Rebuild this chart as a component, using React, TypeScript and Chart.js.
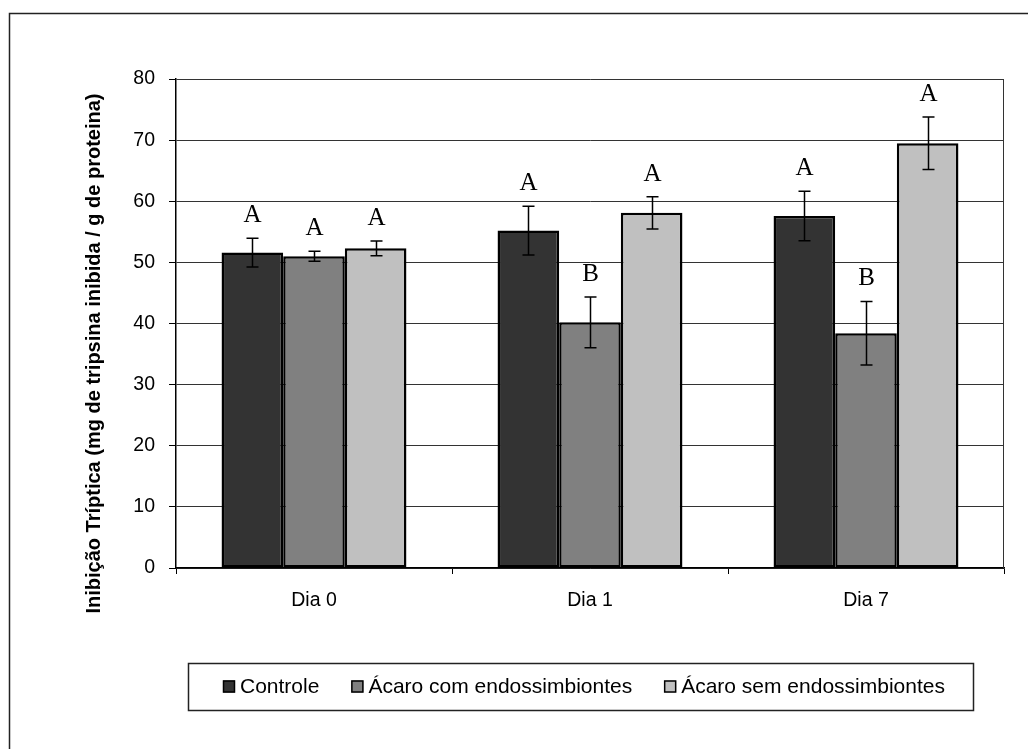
import { useEffect, useRef } from 'react';
import { Chart, registerables } from 'chart.js';

Chart.register(...registerables);

// Sampling days
const categories = ['Dia 0', 'Dia 1', 'Dia 7'];

// Treatment groups
const seriesNames = ['Controle', 'Ácaro com endossimbiontes', 'Ácaro sem endossimbiontes'];
const seriesColors = ['#333333', '#808080', '#c0c0c0'];

// Mean tryptic inhibition (mg trypsin inhibited / g protein)
const controleValues = [51.6, 55.2, 57.6];
const comEndoValues = [51.0, 40.2, 38.4];
const semEndoValues = [52.3, 58.1, 69.5];

// Standard errors
const controleErrors = [2.35, 4.0, 4.05];
const comEndoErrors = [0.8, 4.15, 5.2];
const semEndoErrors = [1.2, 2.65, 4.3];

// Significance letters
const controleLetters = ['A', 'A', 'A'];
const comEndoLetters = ['A', 'B', 'B'];
const semEndoLetters = ['A', 'A', 'A'];

const yTicks = { min: 0, max: 80, step: 10 };

const yTitle = 'Inibição Tríptica (mg de tripsina inibida / g de proteina)';

const seriesValues = [controleValues, comEndoValues, semEndoValues];
const seriesErrors = [controleErrors, comEndoErrors, semEndoErrors];
const seriesLetters = [controleLetters, comEndoLetters, semEndoLetters];

const SANS = '"Liberation Sans", Arial, sans-serif';
const SERIF = '"Liberation Serif", "Times New Roman", serif';

const decorations = {
  id: 'decorations',
  afterDatasetsDraw(chart: any) {
    const ctx = chart.ctx;
    const yScale = chart.scales.y;
    ctx.save();
    ctx.strokeStyle = '#000';
    ctx.fillStyle = '#000';
    ctx.lineWidth = 1.5;
    ctx.font = `25px ${SERIF}`;
    ctx.textAlign = 'center';
    ctx.textBaseline = 'alphabetic';
    chart.data.datasets.forEach((ds: any, i: number) => {
      const meta = chart.getDatasetMeta(i);
      meta.data.forEach((bar: any, j: number) => {
        const v = seriesValues[i][j];
        const e = seriesErrors[i][j];
        const x = Math.round(bar.x) + 0.5;
        const yTop = yScale.getPixelForValue(v + e);
        const yBot = yScale.getPixelForValue(v - e);
        ctx.beginPath();
        ctx.moveTo(x, yTop);
        ctx.lineTo(x, yBot);
        ctx.moveTo(x - 6, yTop);
        ctx.lineTo(x + 6, yTop);
        ctx.moveTo(x - 6, yBot);
        ctx.lineTo(x + 6, yBot);
        ctx.stroke();
        ctx.fillText(seriesLetters[i][j], x, yTop - 16);
      });
    });
    ctx.restore();
  },
  afterDraw(chart: any) {
    const ctx = chart.ctx;
    const area = chart.chartArea;
    ctx.save();

    // outer frame (top and left edges)
    ctx.strokeStyle = '#222';
    ctx.lineWidth = 1.5;
    ctx.beginPath();
    ctx.moveTo(9.5, chart.height + 2);
    ctx.lineTo(9.5, 13.5);
    ctx.lineTo(chart.width + 2, 13.5);
    ctx.stroke();

    // right edge of plot area
    ctx.strokeStyle = '#333';
    ctx.lineWidth = 1;
    ctx.beginPath();
    ctx.moveTo(Math.round(area.right) - 0.5, area.top);
    ctx.lineTo(Math.round(area.right) - 0.5, area.bottom);
    ctx.stroke();

    // y axis title
    ctx.fillStyle = '#000';
    ctx.font = `bold 20px ${SANS}`;
    ctx.textAlign = 'center';
    ctx.textBaseline = 'alphabetic';
    ctx.translate(99.5, 353.5);
    ctx.rotate(-Math.PI / 2);
    ctx.fillText(yTitle, 0, 0);
    ctx.setTransform(1, 0, 0, 1, 0, 0);

    // legend box
    ctx.strokeStyle = '#222';
    ctx.lineWidth = 1.5;
    ctx.strokeRect(188.5, 663.5, 785, 47);
    ctx.font = `21px ${SANS}`;
    ctx.textAlign = 'left';
    ctx.textBaseline = 'middle';
    let x = 223;
    const cy = 686.5;
    chart.data.datasets.forEach((ds: any) => {
      ctx.fillStyle = ds.backgroundColor;
      ctx.fillRect(x, cy - 6, 12, 12);
      ctx.strokeStyle = '#000';
      ctx.lineWidth = 1.5;
      ctx.strokeRect(x + 0.5, cy - 5.5, 11, 11);
      ctx.fillStyle = '#000';
      ctx.fillText(ds.label, x + 17, cy + 1);
      x += 17 + ctx.measureText(ds.label).width + 32;
    });
    ctx.restore();
  },
};

export default function App() {
  const canvasRef = useRef<HTMLCanvasElement | null>(null);

  useEffect(() => {
    const canvas = canvasRef.current;
    if (!canvas) return;
    const chart = new Chart(canvas, {
      type: 'bar',
      data: {
        labels: categories,
        datasets: seriesNames.map((name, i) => ({
          label: name,
          data: seriesValues[i],
          backgroundColor: seriesColors[i],
          borderColor: '#000',
          borderWidth: 2.5,
          borderSkipped: false,
          categoryPercentage: 0.67,
          barPercentage: 1.0,
        })),
      },
      options: {
        responsive: false,
        animation: false,
        devicePixelRatio: 1,
        layout: { padding: { top: 79, left: 76, right: 24, bottom: 121 } },
        plugins: {
          legend: { display: false },
          tooltip: { enabled: false },
        },
        scales: {
          x: {
            offset: true,
            grid: {
              offset: true,
              drawOnChartArea: false,
              drawTicks: true,
              tickLength: 6,
              color: '#000',
              lineWidth: 1,
            },
            border: { color: '#000', width: 1.5 },
            ticks: {
              color: '#000',
              padding: 15,
              font: { family: SANS, size: 19.5 },
            },
            afterFit: (s: any) => {
              s.height = 60;
            },
          },
          y: {
            min: yTicks.min,
            max: yTicks.max,
            ticks: {
              stepSize: yTicks.step,
              color: '#000',
              padding: 14,
              font: { family: SANS, size: 19.5 },
            },
            grid: {
              color: '#333',
              lineWidth: 1,
              tickLength: 7,
              tickColor: '#000',
            },
            border: { color: '#000', width: 1.5 },
            afterFit: (s: any) => {
              s.width = 100;
            },
          },
        },
      },
      plugins: [decorations],
    });
    return () => chart.destroy();
  }, []);

  return (
    <div style={{ position: 'absolute', left: 0, top: 0, width: 1028, height: 749, background: '#fff' }}>
      <canvas ref={canvasRef} width={1028} height={749} />
    </div>
  );
}
